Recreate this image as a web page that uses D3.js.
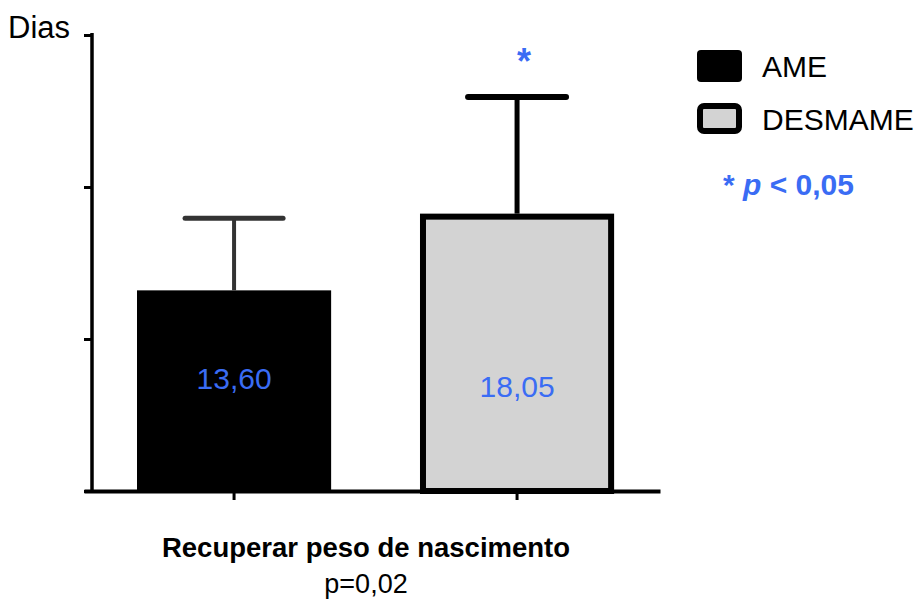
<!DOCTYPE html>
<html>
<head>
<meta charset="utf-8">
<script src="https://cdn.jsdelivr.net/npm/d3@7"></script>
<style>
  body { margin: 0; background: #fff; }
  text { font-family: "Liberation Sans", Arial, sans-serif; }
</style>
</head>
<body>
<svg id="chart" width="921" height="601"></svg>
<script>
// groups and values (days)
var categories = ["AME", "DESMAME"];
var means = [13.2, 18.05];          // bar heights as drawn
var meanLabels = ["13,60", "18,05"];
var errors = [4.75, 7.87];          // upper error bars
var yTicks = [0, 10, 20, 30];
var fills = ["#000000", "#d3d3d3"];
var blue = "#3a6cf4";

var svg = d3.select("#chart");

// Axis
var x = d3.scaleBand()
    .domain(categories)
    .range([84, 660])
    .paddingInner(0.314)
    .paddingOuter(0.1747)
    .align(0.536);

var y = d3.scaleLinear()
    .domain([0, 30])
    .range([491, 35]);

// bars
var bars = svg.append("g");
bars.selectAll("rect")
    .data(categories)
    .enter()
    .append("rect")
    .attr("x", function(d, i) { return i ? x(d) + 3 : x(d); })
    .attr("width", function(d, i) { return i ? x.bandwidth() - 6 : x.bandwidth(); })
    .attr("y", function(d, i) { return y(means[i]); })
    .attr("height", function(d, i) { return y(0) - y(means[i]); })
    .attr("fill", function(d, i) { return fills[i]; })
    .attr("stroke", function(d, i) { return i ? "#000" : "none"; })
    .attr("stroke-width", 6);

// error bars
var err = svg.append("g");
categories.forEach(function(d, i) {
    var cx = x(d) + x.bandwidth() / 2;
    var col = i ? "#000" : "#333";
    var top = y(means[i] + errors[i]);
    err.append("line")
        .attr("x1", cx).attr("x2", cx)
        .attr("y1", top).attr("y2", y(means[i]) - (i ? 3 : 0))
        .attr("stroke", col)
        .attr("stroke-width", i ? 5 : 4);
    err.append("line")
        .attr("x1", cx - 49).attr("x2", cx + 49)
        .attr("y1", top).attr("y2", top)
        .attr("stroke", col)
        .attr("stroke-width", i ? 6 : 5)
        .attr("stroke-linecap", "round");
});

// value labels
svg.append("g").selectAll("text")
    .data(categories)
    .enter()
    .append("text")
    .attr("x", function(d) { return x(d) + x.bandwidth() / 2; })
    .attr("y", function(d, i) { return i ? 397 : 389; })
    .attr("text-anchor", "middle")
    .attr("font-size", 30)
    .attr("fill", blue)
    .text(function(d, i) { return meanLabels[i]; });

// significance star
svg.append("text")
    .attr("x", x("DESMAME") + x.bandwidth() / 2 + 7)
    .attr("y", 74)
    .attr("text-anchor", "middle")
    .attr("font-size", 36)
    .attr("font-weight", "bold")
    .attr("fill", blue)
    .text("*");

// y axis
var yAxis = svg.append("g")
    .attr("transform", "translate(92,0)")
    .call(d3.axisLeft(y).tickValues(yTicks).tickSize(8).tickSizeOuter(0).tickFormat(""));
yAxis.select(".domain").attr("stroke-width", 3.5).attr("d", "M0,33V491");
yAxis.selectAll(".tick line").attr("stroke-width", 3);

// x axis
var xAxis = svg.append("g")
    .attr("transform", "translate(0,491)")
    .call(d3.axisBottom(x).tickSize(9).tickSizeOuter(0).tickFormat(""));
xAxis.select(".domain").attr("stroke-width", 4);
xAxis.selectAll(".tick line").attr("stroke-width", 3);

svg.append("text")
    .attr("x", 8).attr("y", 38)
    .attr("font-size", 31)
    .text("Dias");

// x label
svg.append("text")
    .attr("x", 366).attr("y", 557)
    .attr("text-anchor", "middle")
    .attr("font-size", 27.5)
    .attr("font-weight", "bold")
    .text("Recuperar peso de nascimento");
svg.append("text")
    .attr("x", 366).attr("y", 593)
    .attr("text-anchor", "middle")
    .attr("font-size", 27)
    .text("p=0,02");

// legend
var legend = svg.append("g");
categories.forEach(function(d, i) {
    legend.append("rect")
        .attr("x", i ? 700 : 697)
        .attr("y", i ? 106 : 50)
        .attr("width", i ? 39 : 45)
        .attr("height", i ? 25 : 32)
        .attr("rx", 4)
        .attr("fill", fills[i])
        .attr("stroke", i ? "#000" : "none")
        .attr("stroke-width", 6);
    legend.append("text")
        .attr("x", 762)
        .attr("y", i ? 130 : 77)
        .attr("font-size", 30)
        .text(d);
});

var note = legend.append("text")
    .attr("x", 723).attr("y", 195)
    .attr("font-size", 30)
    .attr("font-weight", "bold")
    .attr("fill", blue);
note.append("tspan").text("* ");
note.append("tspan").attr("font-style", "italic").text("p");
note.append("tspan").text(" < 0,05");
</script>
</body>
</html>
